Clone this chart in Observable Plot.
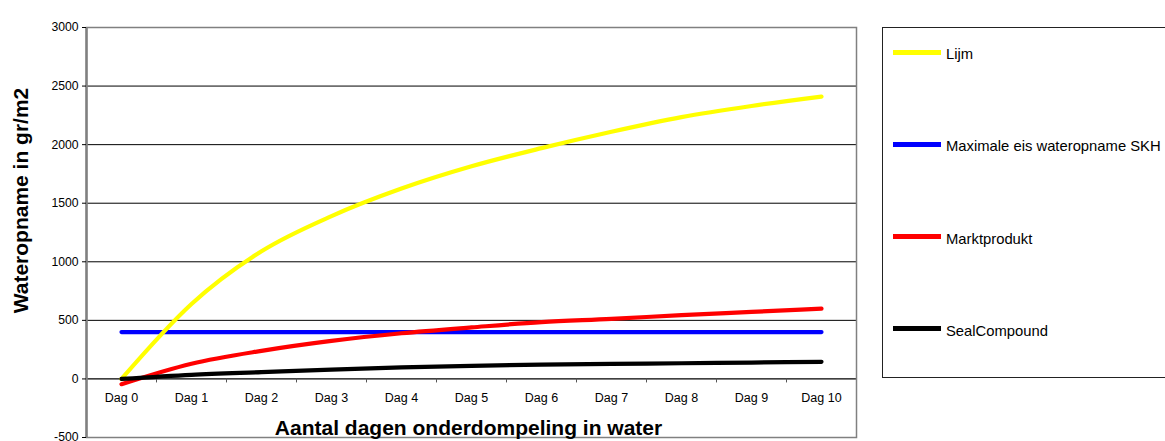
<!DOCTYPE html>
<html>
<head>
<meta charset="utf-8">
<script src="https://cdn.jsdelivr.net/npm/d3@7"></script>
<script src="https://cdn.jsdelivr.net/npm/@observablehq/plot@0.6"></script>
<style>
  html, body { margin: 0; padding: 0; background: #fff; }
  #wrap { position: relative; width: 1165px; height: 441px; overflow: hidden; font-family: Arial, "Liberation Sans", sans-serif; }
  #chart { position: absolute; left: 0; top: 0; }
  #legend { position: absolute; left: 882px; top: 27px; width: 320px; height: 351px; border: 1px solid #222; box-sizing: border-box; background: #fff; }
  .item { position: absolute; left: 10px; height: 20px; display: flex; align-items: center; white-space: nowrap; font-size: 14.8px; color: #000; }
  .sw { width: 48px; height: 5px; margin-right: 5px; }
  .lab { position: relative; top: 2px; }
</style>
</head>
<body>
<div id="wrap">
  <div id="chart"></div>
  <div id="legend"></div>
</div>
<script>
// ---- data ----
const days = ["Dag 0", "Dag 1", "Dag 2", "Dag 3", "Dag 4", "Dag 5", "Dag 6", "Dag 7", "Dag 8", "Dag 9", "Dag 10"];
const lijm = [0, 640, 1090, 1390, 1625, 1815, 1970, 2110, 2235, 2330, 2410];
const maximaleEis = [400, 400, 400, 400, 400, 400, 400, 400, 400, 400, 400];
const marktprodukt = [-45, 130, 240, 325, 390, 440, 485, 512, 545, 572, 600];
const sealCompound = [0, 35, 58, 80, 98, 112, 122, 128, 134, 140, 146];
const yTicks = [-500, 0, 500, 1000, 1500, 2000, 2500, 3000];
const gridValues = [500, 1000, 1500, 2000, 2500];
const seriesNames = ["Lijm", "Maximale eis wateropname SKH", "Marktprodukt", "SealCompound"];
const seriesColors = ["#FFFF00", "#0000FF", "#FF0000", "#000000"];
const yTitle = "Wateropname in gr/m2";
const xTitle = "Aantal dagen onderdompeling in water";

const seriesValues = [lijm, maximaleEis, marktprodukt, sealCompound];
const rows = [];
seriesValues.forEach((vals, s) => vals.forEach((v, i) => rows.push({series: seriesNames[s], i, day: days[i], value: v})));
const bounds = days.slice(1).map((d, i) => i + 0.5);

const lineFor = (name, color) => Plot.line(rows.filter(r => r.series === name), {
  x: "i", y: "value", stroke: color, strokeWidth: 4.2, curve: "monotone-x"
});

const chart = Plot.plot({
  width: 1165,
  height: 441,
  marginLeft: 86,
  marginRight: 309,
  marginTop: 27,
  marginBottom: 4,
  style: { fontFamily: "Arial, 'Liberation Sans', sans-serif", background: "#fff", color: "#000" },
  x: { domain: [-0.5, 10.5], axis: null },
  y: { domain: [-500, 3000] },
  marks: [
    Plot.ruleY(gridValues, { stroke: "#000", strokeWidth: 1 }),
    Plot.ruleY([0], { stroke: "#000", strokeWidth: 1.2 }),
    Plot.ruleX(bounds, { x: d => d, y1: 0, y2: 0, insetBottom: -4, stroke: "#555" }),
    Plot.frame({ stroke: "#808080", strokeWidth: 1.5 }),
    Plot.ruleX([-0.5], { stroke: "#808080", strokeWidth: 2.5 }),
    Plot.axisY({ ticks: yTicks, tickSize: 4, tickPadding: 4, fontSize: 12.2, label: null, tickFormat: d => String(d) }),
    Plot.text(days, { x: (d, i) => i, y: 0, text: d => d, dy: 19, fontSize: 12.5 }),
    lineFor(seriesNames[1], seriesColors[1]),
    lineFor(seriesNames[0], seriesColors[0]),
    lineFor(seriesNames[2], seriesColors[2]),
    lineFor(seriesNames[3], seriesColors[3]),
    Plot.text([yTitle], { frameAnchor: "left", text: d => d, rotate: -90, dx: -65, dy: -32, fontSize: 21, fontWeight: "bold", lineAnchor: "middle", textAnchor: "middle" }),
    Plot.text([xTitle], { frameAnchor: "bottom", text: d => d, dx: -3, dy: -9, fontSize: 21, fontWeight: "bold", lineAnchor: "middle", textAnchor: "middle" })
  ]
});
document.getElementById("chart").appendChild(chart);

const legend = document.getElementById("legend");
seriesNames.forEach((name, k) => {
  const item = document.createElement("div");
  item.className = "item";
  item.style.top = (14 + k * 92.3) + "px";
  const sw = document.createElement("span");
  sw.className = "sw";
  sw.style.background = seriesColors[k];
  const lab = document.createElement("span");
  lab.className = "lab";
  lab.textContent = name;
  item.appendChild(sw);
  item.appendChild(lab);
  legend.appendChild(item);
});
</script>
</body>
</html>
